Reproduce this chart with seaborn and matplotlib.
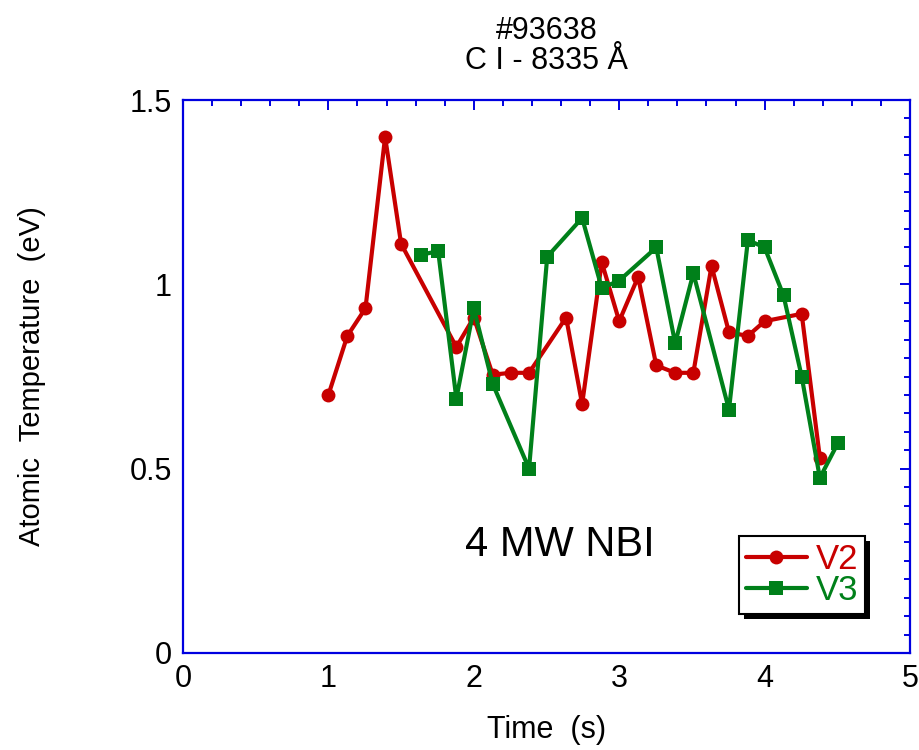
import numpy as np
import pandas as pd
import seaborn as sns
import matplotlib
matplotlib.use("Agg")
import matplotlib.pyplot as plt
from matplotlib.patches import Rectangle
from matplotlib.transforms import IdentityTransform
from matplotlib.ticker import MultipleLocator, FuncFormatter

# C I 8335 A atomic temperature, shot #93638
v2_time = [1.00, 1.13, 1.255, 1.39, 1.50, 1.88, 2.00, 2.13, 2.255, 2.38, 2.635, 2.745,
           2.88, 3.00, 3.13, 3.255, 3.385, 3.51, 3.635, 3.755, 3.885, 4.00, 4.255, 4.38]
v2_temp = [0.70, 0.86, 0.935, 1.40, 1.11, 0.83, 0.91, 0.755, 0.76, 0.76, 0.91, 0.675,
           1.06, 0.90, 1.02, 0.78, 0.76, 0.76, 1.05, 0.87, 0.86, 0.90, 0.92, 0.53]

v3_time = [1.635, 1.755, 1.88, 2.00, 2.13, 2.38, 2.505, 2.745, 2.88, 3.00, 3.255, 3.385,
           3.51, 3.755, 3.885, 4.00, 4.13, 4.255, 4.38, 4.505]
v3_temp = [1.08, 1.09, 0.69, 0.935, 0.73, 0.50, 1.075, 1.18, 0.99, 1.01, 1.10, 0.84,
           1.03, 0.66, 1.12, 1.10, 0.97, 0.75, 0.475, 0.57]

series_names = ["V2", "V3"]
series_colors = ["#c80000", "#00801a"]
series_markers = ["o", "s"]

df = pd.concat([
    pd.DataFrame({"Time": v2_time, "Temp": v2_temp, "Chord": series_names[0]}),
    pd.DataFrame({"Time": v3_time, "Temp": v3_temp, "Chord": series_names[1]}),
], ignore_index=True)

sns.set_theme(style="white")
plt.rcParams["font.family"] = ["Liberation Sans", "DejaVu Sans"]
plt.rcParams["text.color"] = "black"
plt.rcParams["axes.labelcolor"] = "black"

fig = plt.figure(figsize=(9.2, 7.5), dpi=100)
ax = fig.add_axes([183 / 920, 1 - 653 / 750, 727 / 920, 553 / 750])

for name, col, mk in zip(series_names, series_colors, series_markers):
    sub = df[df["Chord"] == name]
    sns.lineplot(data=sub, x="Time", y="Temp", ax=ax, color=col, marker=mk,
                 markersize=10, markeredgewidth=0,
                 linewidth=3.0, label=name, sort=False, estimator=None)

ax.set_xlim(0, 5)
ax.set_ylim(0, 1.5)
ax.xaxis.set_major_locator(MultipleLocator(1))
ax.xaxis.set_minor_locator(MultipleLocator(0.2))
ax.yaxis.set_major_locator(MultipleLocator(0.5))
ax.yaxis.set_minor_locator(MultipleLocator(0.05))
ax.yaxis.set_major_formatter(FuncFormatter(lambda v, p: f"{v:g}"))

spine_col = "#0000e0"
for s in ax.spines.values():
    s.set_color(spine_col)
    s.set_linewidth(1.6)
ax.tick_params(which="both", direction="in", top=True, right=True,
               color=spine_col, labelsize=22, labelcolor="black")
ax.tick_params(which="major", length=7.5, width=1.4, pad=8)
ax.tick_params(which="minor", length=4, width=1.4)

ax.set_xlabel("Time  (s)", fontsize=22, labelpad=15)
ax.set_ylabel("Atomic  Temperature  (eV)", fontsize=21, labelpad=60)
ax.set_title("#93638\nC I - 8335 Å", fontsize=22, pad=22, linespacing=1.0)

ax.text(2.59, 0.293, "4 MW NBI", fontsize=30, ha="center", va="center")

leg = ax.legend(loc="upper left", bbox_to_anchor=(0.765, 0.212), fontsize=25,
                frameon=True, fancybox=False, handlelength=1.75, handletextpad=0.25,
                borderpad=0.2, labelspacing=-0.05, borderaxespad=0)
leg.get_frame().set_edgecolor("black")
leg.get_frame().set_linewidth(1.5)
leg.get_frame().set_facecolor("white")
leg.get_frame().set_alpha(1)
for txt, col in zip(leg.get_texts(), series_colors):
    txt.set_color(col)

# offset black drop shadow behind the legend box
fig.canvas.draw()
bb = leg.get_window_extent()
ax.add_patch(Rectangle((bb.x0 + 5, bb.y0 - 5), bb.width, bb.height,
                       transform=IdentityTransform(), facecolor="black",
                       edgecolor="none", zorder=4.9, clip_on=False))

fig.savefig("out.png", dpi=100)
